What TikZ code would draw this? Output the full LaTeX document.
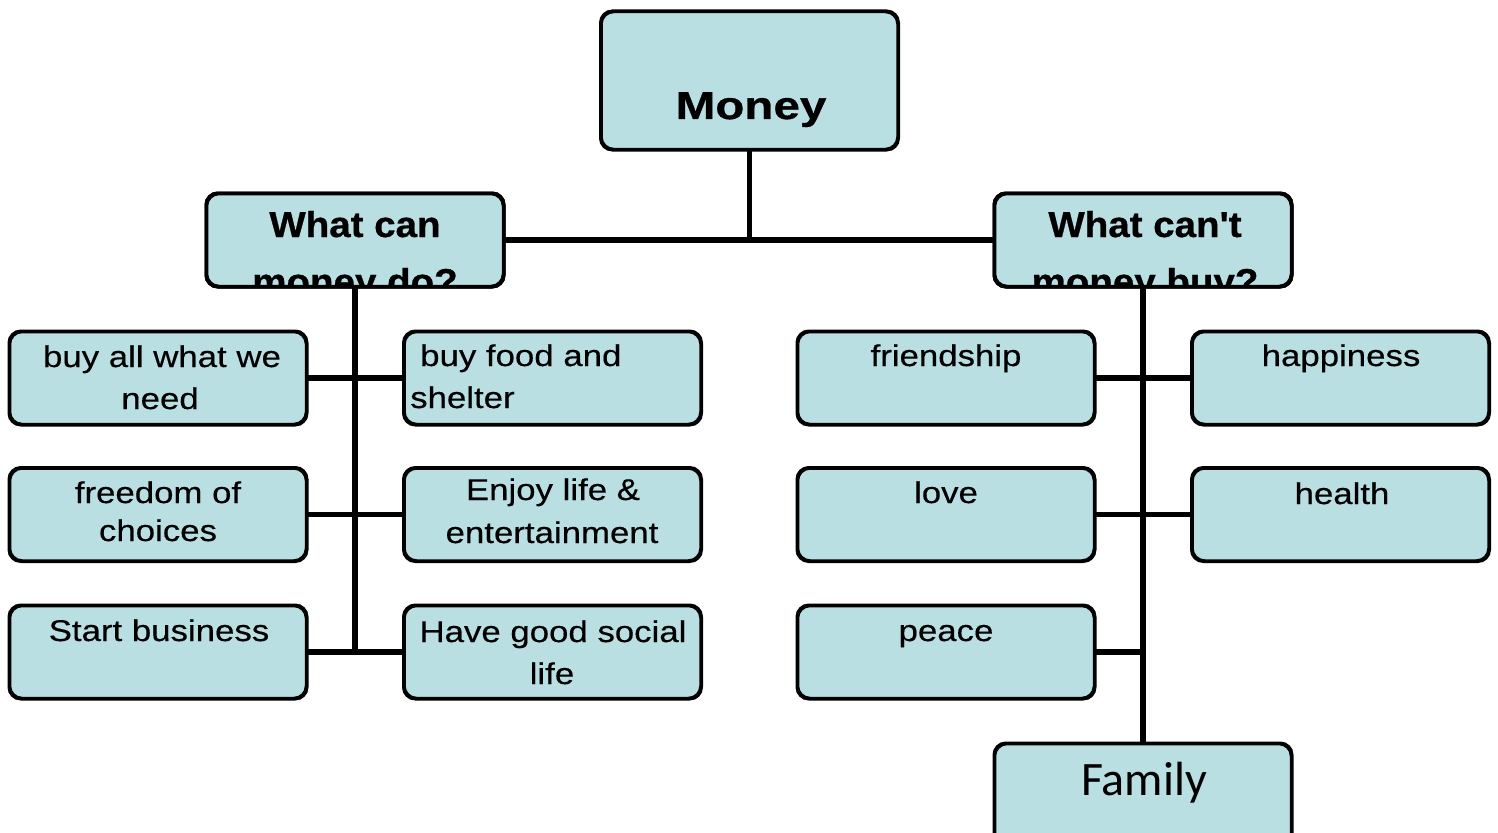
\documentclass[tikz,border=0pt]{standalone}
\usepackage{fontspec}
\setmainfont{Liberation Sans}
\newfontfamily\leaffont[FakeStretch=1.16,FakeBold=0.4]{Liberation Sans}
\newfontfamily\headfont[FakeStretch=1.07,FakeBold=0.8]{Liberation Sans}
\newfontfamily\moneyfont[FakeStretch=1.22,FakeBold=0.8]{Liberation Sans}
\newfontfamily\famfont{Carlito}
\definecolor{boxblue}{RGB}{185,223,227}
\tikzset{
  box/.style={draw=black, line width=2.5pt, rounded corners=12pt, fill=boxblue,
    rectangle, inner sep=0pt, minimum width=296pt, minimum height=92pt},
  boxline/.style={draw=black, line width=2.5pt, rounded corners=12pt},
  conn/.style={draw=black, line width=5.5pt},
  leaf/.style={anchor=base, inner sep=0pt, font=\leaffont\fontsize{30}{36}\selectfont},
  head/.style={anchor=base, inner sep=0pt, font=\headfont\bfseries\fontsize{36}{42}\selectfont},
}
\begin{document}
\begin{tikzpicture}[x=1pt,y=-1pt]
\useasboundingbox (0,0) rectangle (1498,832);
% boxes
\node[box, minimum height=137pt] (money) at (749.5,80.5) {};
\node[box] (h1) at (355,240) {};
\node[box] (h2) at (1143,240) {};
\node[box, minimum height=130pt] (fam) at (1143,809) {};
\node[box] (a1) at (158,378) {};
\node[box] (a2) at (158,514.5) {};
\node[box] (a3) at (158,652) {};
\node[box] (b1) at (552.5,378) {};
\node[box] (b2) at (552.5,514.5) {};
\node[box] (b3) at (552.5,652) {};
\node[box] (c1) at (946,378) {};
\node[box] (c2) at (946,514.5) {};
\node[box] (c3) at (946,652) {};
\node[box] (d1) at (1340.5,378) {};
\node[box] (d2) at (1340.5,514.5) {};
% connectors
\draw[conn] (money.south) -- (money.south |- h1.east);
\draw[conn] (h1.east) -- (h2.west);
\draw[conn] (h1.south) -- (h1.south |- a3.east);
\draw[conn] (a1.east) -- (b1.west);
\draw[conn] (a2.east) -- (b2.west);
\draw[conn] (a3.east) -- (b3.west);
\draw[conn] (h2.south) -- (fam.north);
\draw[conn] (c1.east) -- (d1.west);
\draw[conn] (c2.east) -- (d2.west);
\draw[conn] (c3.east) -- (c3.east -| h2.south);
% redraw box outlines over connector ends
\foreach \n in {money,h1,h2,fam,a1,a2,a3,b1,b2,b3,c1,c2,c3,d1,d2}{
  \draw[boxline] (\n.south west) rectangle (\n.north east);
}
% texts
\node[anchor=base, inner sep=0pt, font=\moneyfont\bfseries\fontsize{39}{44}\selectfont] (tmoney) at (751,119) {Money};
\begin{scope}
\clip[rounded corners=12pt] ([shift={(1.2pt,1.2pt)}]h1.south west) rectangle ([shift={(-1.2pt,-1.2pt)}]h1.north east);
\node[head] (th1a) at (355,237) {What can};
\node[head] (th1b) at (355,294) {money do?};
\end{scope}
\begin{scope}
\clip[rounded corners=12pt] ([shift={(1.2pt,1.2pt)}]h2.south west) rectangle ([shift={(-1.2pt,-1.2pt)}]h2.north east);
\node[head] (th2a) at (1145,237) {What can't};
\node[head] (th2b) at (1145,294) {money buy?};
\end{scope}
\draw[boxline] (h1.south west) rectangle (h1.north east);
\draw[boxline] (h2.south west) rectangle (h2.north east);
\node[anchor=base, inner sep=0pt, font=\famfont\fontsize{48}{56}\selectfont] (tfam) at (1144,795) {Family};
% left leaves
\node[leaf] (ta1a) at (162,367) {buy all what we};
\node[leaf] (ta1b) at (160,409) {need};
\node[leaf] (ta2a) at (158,503) {freedom of};
\node[leaf] (ta2b) at (158,541) {choices};
\node[leaf] (ta3) at (159,641) {Start business};
\node[leaf, anchor=base west] (tb1a) at (420,366) {buy food and};
\node[leaf, anchor=base west] (tb1b) at (410,408) {shelter};
\node[leaf] (tb2a) at (553,500) {Enjoy life \&};
\node[leaf] (tb2b) at (552,543) {entertainment};
\node[leaf] (tb3a) at (553,642) {Have good social};
\node[leaf] (tb3b) at (552,684) {life};
% right leaves
\node[leaf] (tc1) at (946,366) {friendship};
\node[leaf] (tc2) at (946,503) {love};
\node[leaf] (tc3) at (946,641) {peace};
\node[leaf] (td1) at (1341,366) {happiness};
\node[leaf] (td2) at (1342,504) {health};
\end{tikzpicture}
\end{document}
